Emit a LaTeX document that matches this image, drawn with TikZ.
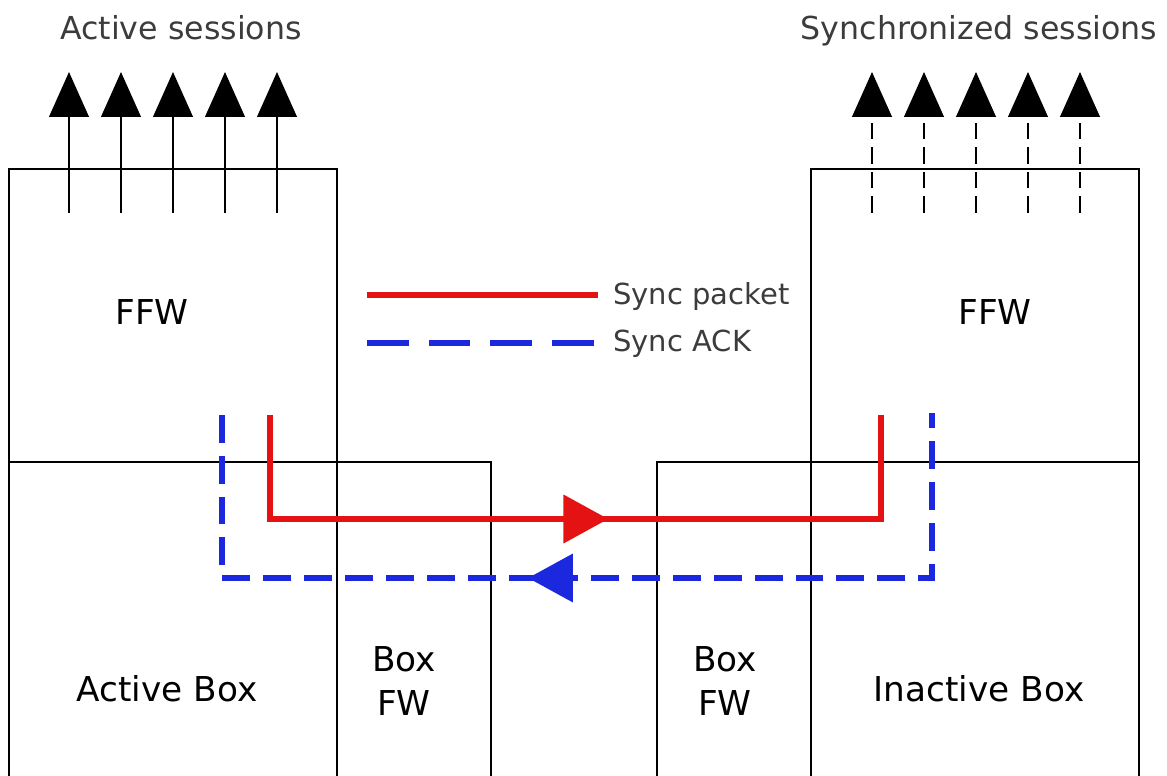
\documentclass[tikz,border=0pt]{standalone}
\usepackage{fontspec}
\setmainfont{DejaVu Sans}
\usetikzlibrary{
  arrows.meta,
  decorations.markings
}
\definecolor{syncred}{RGB}{228,18,18}
\definecolor{ackblue}{RGB}{28,40,222}
\definecolor{titlegray}{RGB}{60,60,60}

\begin{document}
\begin{tikzpicture}[
  x=0.02cm, y=-0.02cm,
  box/.style={draw, line width=1.1pt, anchor=north west, inner sep=0pt, outer sep=0pt},
  box label/.style={font=\fontsize{19.5}{25.5}\selectfont, align=center, inner sep=0pt},
  title label/.style={font=\fontsize{18}{21}\selectfont, text=titlegray, anchor=base, inner sep=0pt},
  legend label/.style={font=\fontsize{16.5}{20}\selectfont, text=titlegray, anchor=base west, inner sep=0pt},
  session/.style={line width=1.1pt, -{Triangle[length=25.5pt, width=22.5pt]}},
  session sync/.style={session, dash pattern=on 9.5pt off 4.5pt},
  sync line/.style={syncred, line width=3.3pt},
  ack line/.style={ackblue, line width=3.3pt, dash pattern=on 15.9pt off 7.4pt, dash phase=7.4pt},
]
\useasboundingbox (0,0) rectangle (1167,776);

% Boxes (bottom row runs off the page)
\node[box, minimum width=6.56cm, minimum height=5.86cm] (ffwL)   at (9,169)   {};
\node[box, minimum width=6.56cm, minimum height=6.56cm] (actL)   at (9,462)   {};
\node[box, minimum width=3.08cm, minimum height=6.56cm] (fwL)    at (337,462) {};
\node[box, minimum width=3.08cm, minimum height=6.56cm] (fwR)    at (657,462) {};
\node[box, minimum width=6.56cm, minimum height=6.56cm] (inactR) at (811,462) {};
\node[box, minimum width=6.56cm, minimum height=5.86cm] (ffwR)   at (811,169) {};

% Box labels
\node[box label, anchor=base] (ffwLtext)  at (152,325) {FFW};
\node[box label, anchor=base] (ffwRtext)  at (995,325) {FFW};
\node[box label, anchor=base] (actText)   at (167,702) {Active Box};
\node[box label, anchor=base] (inactText) at (979,702) {Inactive Box};
\node[box label] (fwLtext) at (404,681) {Box\\FW};
\node[box label] (fwRtext) at (725,681) {Box\\FW};

% Session titles
\node[title label] (actTitle)  at (181,40) {Active sessions};
\node[title label] (syncTitle) at (979,40) {Synchronized sessions};

% Active sessions
\draw[session] (69,213)  coordinate (as1) -- (69,72)  coordinate (at1);
\draw[session] (121,213) coordinate (as2) -- (121,72) coordinate (at2);
\draw[session] (173,213) coordinate (as3) -- (173,72) coordinate (at3);
\draw[session] (225,213) coordinate (as4) -- (225,72) coordinate (at4);
\draw[session] (277,213) coordinate (as5) -- (277,72) coordinate (at5);

% Synchronized sessions
\draw[session sync] (872,213)  coordinate (ss1) -- (872,72)  coordinate (st1);
\draw[session sync] (924,213)  coordinate (ss2) -- (924,72)  coordinate (st2);
\draw[session sync] (976,213)  coordinate (ss3) -- (976,72)  coordinate (st3);
\draw[session sync] (1028,213) coordinate (ss4) -- (1028,72) coordinate (st4);
\draw[session sync] (1080,213) coordinate (ss5) -- (1080,72) coordinate (st5);

% Legend
\coordinate (legSyncA) at (367,295);
\coordinate (legSyncB) at (598,295);
\coordinate (legAckA)  at (367,343);
\coordinate (legAckB)  at (598,343);
\draw[sync line] (legSyncA) -- (legSyncB);
\draw[ackblue, line width=3.3pt, dash pattern=on 23.8pt off 11.3pt] (legAckA) -- (legAckB);
\node[legend label] (legSync) at (613,305) {Sync packet};
\node[legend label] (legAck)  at (613,352) {Sync ACK};

% Sync packet path (active -> inactive)
\coordinate (syncA) at (270,415);
\coordinate (syncB) at (881,415);
\draw[sync line, postaction={decorate}, decoration={markings,
    mark=at position 0.54 with {\arrow{Triangle[length=25.5pt, width=27pt]}}}]
  (syncA) -- ++(0,104) -| (syncB);

% Sync ACK path (inactive -> active)
\coordinate (ackA) at (932,413);
\coordinate (ackB) at (222,413);
\draw[ack line, postaction={decorate}, decoration={markings,
    mark=at position 0.547 with {\arrow[solid]{Triangle[length=25.5pt, width=27pt]}}}]
  (ackA) -- ++(0,165) -| (ackB);

\end{tikzpicture}
\end{document}
